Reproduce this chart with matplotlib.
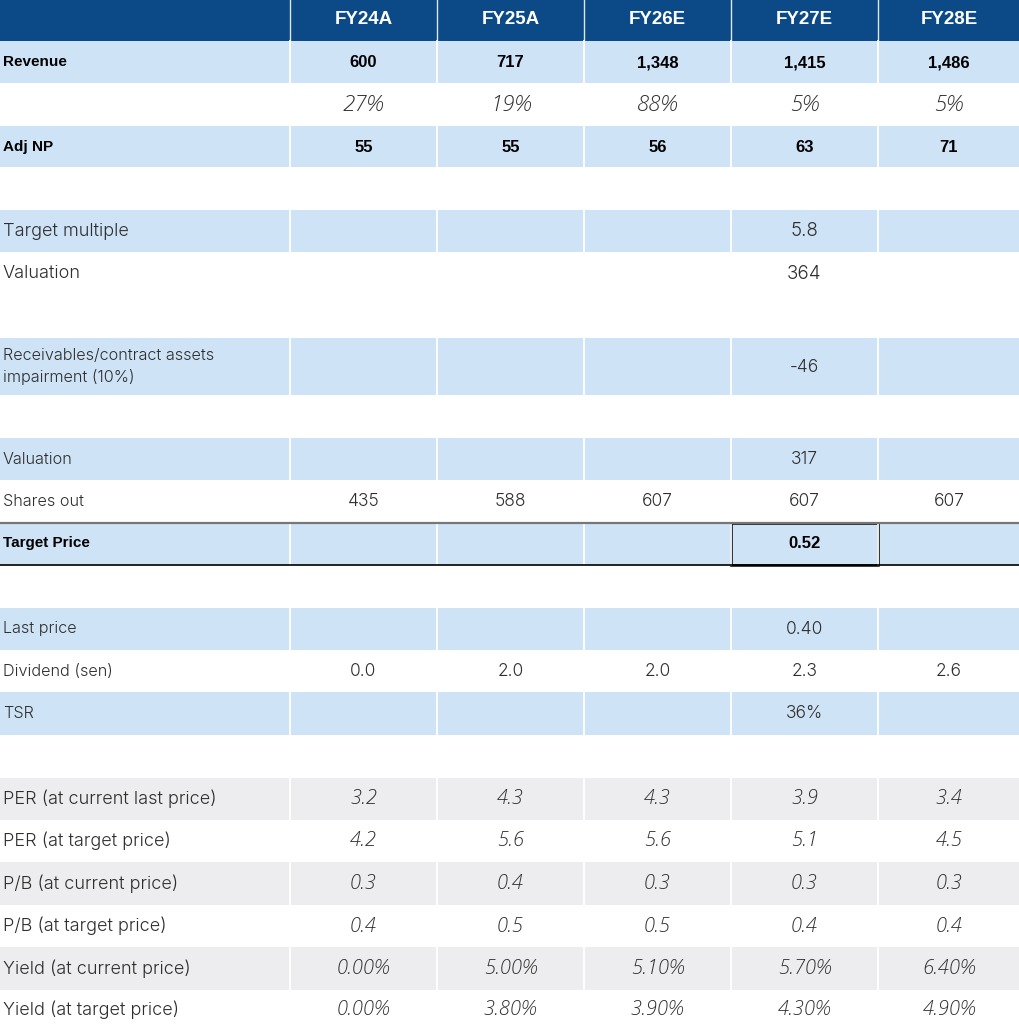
import matplotlib
matplotlib.use("Agg")
import matplotlib.pyplot as plt
from matplotlib.patches import Rectangle

# ---------------- data ----------------
columns = ["FY24A", "FY25A", "FY26E", "FY27E", "FY28E"]
revenue = [600, 717, 1348, 1415, 1486]
revenue_growth = [27, 19, 88, 5, 5]
adj_np = [55, 55, 56, 63, 71]
target_multiple = [None, None, None, 5.8, None]
valuation = [None, None, None, 364, None]
impairment = [None, None, None, -46, None]
valuation_after = [None, None, None, 317, None]
shares_out = [435, 588, 607, 607, 607]
target_price = [None, None, None, 0.52, None]
last_price = [None, None, None, 0.40, None]
dividend_sen = [0.0, 2.0, 2.0, 2.3, 2.6]
tsr = [None, None, None, 36, None]
per_current = [3.2, 4.3, 4.3, 3.9, 3.4]
per_target = [4.2, 5.6, 5.6, 5.1, 4.5]
pb_current = [0.3, 0.4, 0.3, 0.3, 0.3]
pb_target = [0.4, 0.5, 0.5, 0.4, 0.4]
yield_current = [0.00, 5.00, 5.10, 5.70, 6.40]
yield_target = [0.00, 3.80, 3.90, 4.30, 4.90]

# ---------------- style ----------------
HEADER = "#0B4A87"
BLUE = "#CFE3F7"
GREY = "#EDEDEF"
WHITE = "#FFFFFF"
TXT = "#2E2E2E"

fig = plt.figure(figsize=(10.2, 10.27), dpi=100)
ax = fig.add_axes([0, 0, 1, 1])
ax.set_xlim(0, 1020)
ax.set_ylim(1027, 0)
ax.axis("off")

col_edges = [0, 290, 437, 584, 731, 878, 1020]


def fmt(v, f):
    return "" if v is None else f(v)


comma = lambda v: f"{v:,.0f}"
one = lambda v: f"{v:.1f}"
two = lambda v: f"{v:.2f}"
pct0 = lambda v: f"{v:.0f}%"
pct2 = lambda v: f"{v:.2f}%"

# rows: (label, values, formatter, y0, y1, fill, style)
rows = [
    ("Revenue", revenue, comma, 41, 83, BLUE, "bold"),
    ("", revenue_growth, pct0, 83, 126, WHITE, "italic"),
    ("Adj NP", adj_np, comma, 126, 167, BLUE, "bold"),
    ("Target multiple", target_multiple, one, 210, 252, BLUE, "big"),
    ("Valuation", valuation, comma, 252, 295, WHITE, "big"),
    ("Receivables/contract assets\nimpairment (10%)", impairment, comma, 338, 395, BLUE, "small"),
    ("Valuation", valuation_after, comma, 438, 480, BLUE, "small"),
    ("Shares out", shares_out, comma, 480, 522, WHITE, "small"),
    ("Target Price", target_price, two, 522, 565, BLUE, "bold"),
    ("Last price", last_price, two, 608, 650, BLUE, "small"),
    ("Dividend (sen)", dividend_sen, one, 650, 692, WHITE, "small"),
    ("TSR", tsr, pct0, 692, 735, BLUE, "small"),
    ("PER (at current last price)", per_current, one, 778, 820, GREY, "bigit"),
    ("PER (at target price)", per_target, one, 820, 862, WHITE, "bigit"),
    ("P/B (at current price)", pb_current, one, 862, 905, GREY, "bigit"),
    ("P/B (at target price)", pb_target, one, 905, 947, WHITE, "bigit"),
    ("Yield (at current price)", yield_current, pct2, 947, 990, GREY, "bigit"),
    ("Yield (at target price)", yield_target, pct2, 990, 1032, WHITE, "bigit"),
]

BOLD_LAB = dict(family="Liberation Sans", fontweight="bold", color="black", fontsize=11)
BOLD_VAL = dict(family="Liberation Sans", fontweight="bold", color="black", fontsize=12)
LIGHT = dict(family="Inter", fontweight=300, color=TXT)
ITAL = dict(family="Open Sans", fontweight=300, fontstyle="italic", color=TXT)

# header
ax.add_patch(Rectangle((0, 0), 1020, 41, facecolor=HEADER, edgecolor="none"))
for i, c in enumerate(columns):
    xc = (col_edges[i + 1] + col_edges[i + 2]) / 2
    ax.text(xc, 20, c, ha="center", va="center", family="Liberation Sans",
            fontweight="bold", color="white", fontsize=13.5)
for xe in col_edges[1:-1]:
    ax.plot([xe, xe], [0, 41], color="#DDE6F0", lw=1.0)

for label, vals, f, y0, y1, fill, style in rows:
    ax.add_patch(Rectangle((0, y0), 1020, y1 - y0, facecolor=fill, edgecolor="none"))
    if fill != WHITE:
        for xe in col_edges[1:-1]:
            ax.plot([xe, xe], [y0, y1], color="white", lw=1.3)
    yc = (y0 + y1) / 2 if y1 < 1027 else (y0 + 1027) / 2 + 1
    if style == "bold":
        lab_kw = BOLD_LAB
        val_kw = BOLD_VAL
    elif style == "italic":
        lab_kw = dict(LIGHT, fontsize=12)
        val_kw = dict(ITAL, fontsize=16)
    elif style == "big":
        lab_kw = dict(LIGHT, fontsize=13)
        val_kw = dict(LIGHT, fontsize=13.5)
    elif style == "bigit":
        lab_kw = dict(LIGHT, fontsize=13)
        val_kw = dict(ITAL, fontsize=14.5)
    else:
        lab_kw = dict(LIGHT, fontsize=11.7)
        val_kw = dict(LIGHT, fontsize=12.5)
    if label:
        ax.text(3, yc, label, ha="left", va="center", linespacing=1.45, **lab_kw)
    for i, v in enumerate(vals):
        s = fmt(v, f)
        if s:
            xc = (col_edges[i + 1] + col_edges[i + 2]) / 2
            ax.text(xc, yc + 0.5, s, ha="center", va="center", **val_kw)

# Target price borders
ax.plot([0, 1020], [522.5, 522.5], color="#777777", lw=1.6)
ax.plot([0, 1020], [565, 565], color="black", lw=1.2)
ax.add_patch(Rectangle((731.5, 522.5), 146.5, 42.5, facecolor="none",
                       edgecolor="black", lw=1.8))

fig.savefig("out.png", dpi=100)
